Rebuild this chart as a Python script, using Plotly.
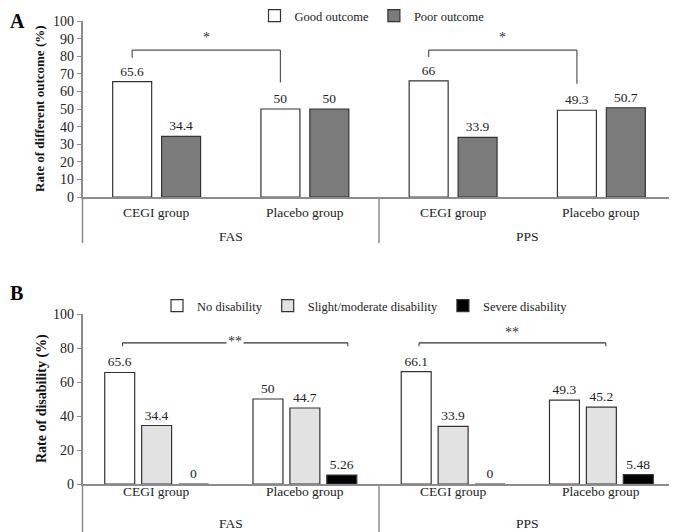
import plotly.graph_objects as go

# ---------------- data ----------------
sets = ["FAS", "FAS", "PPS", "PPS"]
groups = ["CEGI group", "Placebo group", "CEGI group", "Placebo group"]

good_outcome = [65.6, 50, 66, 49.3]
poor_outcome = [34.4, 50, 33.9, 50.7]

no_disability = [65.6, 50, 66.1, 49.3]
slight_moderate = [34.4, 44.7, 33.9, 45.2]
severe_disability = [0, 5.26, 0, 5.48]

sig_A = ["*", "*"]
sig_B = ["**", "**"]

yticks_A = list(range(0, 101, 10))
yticks_B = list(range(0, 101, 20))

FONT = "Liberation Serif"
AXC = "#8c8c8c"
TXT = "#222222"
xcat = [sets, groups]
n = len(groups)

# page is drawn inside the default 8px body margin
OFF = 8
W, H = 677 - OFF, 532 - OFF


def px(xp):
    return (xp - OFF) / W


def py(yp):
    return 1 - (yp - OFF) / H


xdom = [px(82.5), px(675.5)]
ydomA = [py(197), py(21)]
ydomB = [py(484), py(314)]


def x_edge_paper(e):
    return xdom[0] + (e + 0.5) / n * (xdom[1] - xdom[0])


fig = go.Figure()

# ---- Panel A bars ----
wA = 0.263
offA = [-0.165, 0.165]
for vals, name, col, off in [(good_outcome, "Good outcome", "#ffffff", offA[0]),
                             (poor_outcome, "Poor outcome", "#7b7b7b", offA[1])]:
    fig.add_trace(go.Bar(
        x=xcat, y=vals, name=name, width=wA, offset=off - wA / 2,
        marker=dict(color=col, line=dict(color="#333333", width=1.2)),
        text=[f"{v:g}" for v in vals], textposition="outside",
        textfont=dict(family=FONT, size=13.5, color=TXT),
        cliponaxis=False, xaxis="x", yaxis="y", legend="legend"))

# ---- Panel B bars ----
wB = 0.202
offB = [-0.249, 0.0, 0.249]
for vals, name, col, off in [(no_disability, "No disability", "#ffffff", offB[0]),
                             (slight_moderate, "Slight/moderate disability", "#e2e2e2", offB[1]),
                             (severe_disability, "Severe disability", "#000000", offB[2])]:
    fig.add_trace(go.Bar(
        x=xcat, y=vals, name=name, width=wB, offset=off - wB / 2,
        marker=dict(color=col, line=dict(color="#333333", width=1.2)),
        text=[f"{v:g}" for v in vals], textposition="outside",
        textfont=dict(family=FONT, size=13.5, color=TXT),
        cliponaxis=False, xaxis="x2", yaxis="y2", legend="legend2"))

shapes = []
annotations = []


# ---- category / set labels and dividers drawn under each x axis ----
def axis_table(xr, y_base, y_cat, y_set, y_bottom):
    for i, g in enumerate(groups):
        annotations.append(dict(xref=xr, yref="paper", x=i, y=py(y_cat), text=g, showarrow=False,
                                yanchor="middle", font=dict(family=FONT, size=13.5, color=TXT)))
    runs = []
    start = 0
    for i in range(1, n + 1):
        if i == n or sets[i] != sets[start]:
            runs.append((sets[start], start, i - 1))
            start = i
    edges = set()
    for name, a, b in runs:
        annotations.append(dict(xref=xr, yref="paper", x=(a + b) / 2, y=py(y_set), text=name,
                                showarrow=False, yanchor="middle",
                                font=dict(family=FONT, size=13.5, color=TXT)))
        edges.add(a - 0.5)
        edges.add(b + 0.5)
    for e in sorted(edges):
        xe = x_edge_paper(e)
        shapes.append(dict(type="line", xref="paper", yref="paper", x0=xe, x1=xe,
                           y0=py(y_base), y1=py(y_bottom),
                           line=dict(color=AXC, width=1.5)))


axis_table("x", 197, 213, 236.5, 243)
axis_table("x2", 484, 491, 523, 540)

# ---- Panel A significance brackets (CEGI good vs Placebo good within each set) ----
topA = 83.5
for k, (i0, i1) in enumerate([(0, 1), (2, 3)]):
    xl = i0 + offA[0]
    xr = i1 + offA[0]
    yl = good_outcome[i0] + 13.5
    yr = good_outcome[i1] + 15
    for (xa, ya, xb, yb) in [(xl, yl, xl, topA), (xl, topA, xr, topA), (xr, topA, xr, yr)]:
        shapes.append(dict(type="line", xref="x", yref="y", x0=xa, y0=ya, x1=xb, y1=yb,
                           line=dict(color="#555555", width=1.2)))
    annotations.append(dict(xref="x", yref="y", x=(xl + xr) / 2, y=topA + 1.5, text=sig_A[k],
                            showarrow=False, yanchor="bottom",
                            font=dict(family=FONT, size=14, color="#333333")))

# ---- Panel B significance lines ----
topB = 83
for k, (xl, xr) in enumerate([(0 - 0.23, 1 + 0.29), (2 - 0.23, 3 + 0.03)]):
    shapes.append(dict(type="line", xref="x2", yref="y2", x0=xl, y0=topB, x1=xr, y1=topB,
                       line=dict(color="#333333", width=1.2)))
    for xe in (xl, xr):
        shapes.append(dict(type="line", xref="x2", yref="y2", x0=xe, y0=topB, x1=xe, y1=topB - 2,
                           line=dict(color="#333333", width=1)))
    if k == 0:
        annotations.append(dict(xref="x2", yref="y2", x=(xl + xr) / 2, y=topB + 1, text=sig_B[k],
                                showarrow=False, yanchor="middle", bgcolor="#ffffff",
                                font=dict(family=FONT, size=14, color="#333333")))
    else:
        annotations.append(dict(xref="x2", yref="y2", x=(xl + xr) / 2, y=topB + 0.5, text=sig_B[k],
                                showarrow=False, yanchor="bottom",
                                font=dict(family=FONT, size=14, color="#333333")))

# panel letters
annotations.append(dict(xref="paper", yref="paper", x=0.0, y=1.0, text="<b>A</b>",
                        showarrow=False, xanchor="left", yanchor="top",
                        font=dict(family=FONT, size=20, color="#000000")))
annotations.append(dict(xref="paper", yref="paper", x=0.0, y=py(293), text="<b>B</b>",
                        showarrow=False, xanchor="left", yanchor="middle",
                        font=dict(family=FONT, size=20, color="#000000")))

# y-axis titles
annotations.append(dict(xref="paper", yref="paper", x=px(39), y=(ydomA[0] + ydomA[1]) / 2,
                        text="<b>Rate of different outcome (%)</b>", textangle=-90,
                        showarrow=False, xanchor="center", yanchor="middle",
                        font=dict(family=FONT, size=13, color="#111111")))
annotations.append(dict(xref="paper", yref="paper", x=px(42), y=(ydomB[0] + ydomB[1]) / 2,
                        text="<b>Rate of disability (%)</b>", textangle=-90,
                        showarrow=False, xanchor="center", yanchor="middle",
                        font=dict(family=FONT, size=14, color="#111111")))

xaxis_common = dict(type="multicategory", showline=True, linecolor=AXC, linewidth=1.5,
                    ticks="", showgrid=False, zeroline=False, showdividers=False,
                    showticklabels=False, automargin=False,
                    range=[-0.5, n - 0.5])
yaxis_common = dict(range=[0, 100], showline=True, linecolor=AXC, linewidth=1.5,
                    ticks="outside", ticklen=4, tickcolor=AXC, showgrid=False, zeroline=False,
                    automargin=False,
                    tickfont=dict(family=FONT, size=14, color=TXT))

fig.update_layout(
    width=W, height=H, margin=dict(l=0, r=0, t=0, b=0, autoexpand=False),
    paper_bgcolor="white", plot_bgcolor="white", barmode="overlay",
    font=dict(family=FONT, size=13, color=TXT),
    xaxis=dict(domain=xdom, anchor="y", **xaxis_common),
    yaxis=dict(domain=ydomA, anchor="x", tickvals=yticks_A, **yaxis_common),
    xaxis2=dict(domain=xdom, anchor="y2", **xaxis_common),
    yaxis2=dict(domain=ydomB, anchor="x2", tickvals=yticks_B, **yaxis_common),
    legend=dict(orientation="h", x=px(372), xanchor="center", y=py(16), yanchor="middle",
                font=dict(family=FONT, size=12.5, color=TXT), itemwidth=30,
                bgcolor="rgba(0,0,0,0)"),
    legend2=dict(orientation="h", x=px(365), xanchor="center", y=py(306), yanchor="middle",
                 font=dict(family=FONT, size=12.5, color=TXT), itemwidth=30,
                 bgcolor="rgba(0,0,0,0)"),
    shapes=shapes, annotations=annotations,
)

fig.write_html("out.html", config={"displayModeBar": False})
